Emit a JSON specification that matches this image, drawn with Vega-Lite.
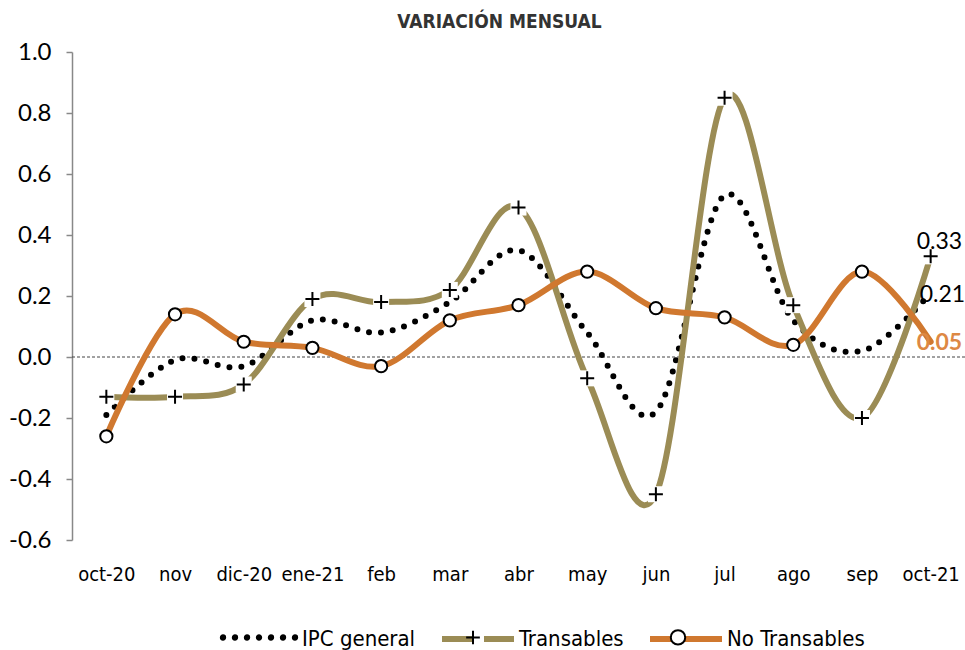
{
  "$schema": "https://vega.github.io/schema/vega-lite/v6.json",
  "width": 893,
  "height": 488,
  "autosize": {"type": "none"},
  "padding": {"left": 72, "top": 52, "right": 0, "bottom": 110},
  "background": "white",
  "title": {
    "text": "VARIACIÓN MENSUAL",
    "font": "DejaVu Sans Condensed",
    "fontSize": 19,
    "fontWeight": "bold",
    "color": "#333333",
    "anchor": "middle",
    "dx": -19,
    "offset": 8
  },
  "data": {
    "values": [
      {"month": "oct-20", "IPC general": -0.19, "Transables": -0.13, "No Transables": -0.26},
      {"month": "nov", "IPC general": -0.01, "Transables": -0.13, "No Transables": 0.14},
      {"month": "dic-20", "IPC general": -0.03, "Transables": -0.09, "No Transables": 0.05},
      {"month": "ene-21", "IPC general": 0.12, "Transables": 0.19, "No Transables": 0.03},
      {"month": "feb", "IPC general": 0.08, "Transables": 0.18, "No Transables": -0.03},
      {"month": "mar", "IPC general": 0.18, "Transables": 0.22, "No Transables": 0.12},
      {"month": "abr", "IPC general": 0.35, "Transables": 0.49, "No Transables": 0.17},
      {"month": "may", "IPC general": 0.08, "Transables": -0.07, "No Transables": 0.28},
      {"month": "jun", "IPC general": -0.18, "Transables": -0.45, "No Transables": 0.16},
      {"month": "jul", "IPC general": 0.53, "Transables": 0.85, "No Transables": 0.13},
      {"month": "ago", "IPC general": 0.12, "Transables": 0.17, "No Transables": 0.04},
      {"month": "sep", "IPC general": 0.02, "Transables": -0.2, "No Transables": 0.28},
      {"month": "oct-21", "IPC general": 0.21, "Transables": 0.33, "No Transables": 0.05}
    ]
  },
  "transform": [
    {"fold": ["IPC general", "Transables", "No Transables"], "as": ["series", "value"]}
  ],
  "config": {
    "view": {"stroke": null},
    "font": "Lato"
  },
  "encoding": {
    "x": {
      "field": "month", "type": "ordinal",
      "scale": {"type": "point", "padding": 0.5, "domain": ["oct-20", "nov", "dic-20", "ene-21", "feb", "mar", "abr", "may", "jun", "jul", "ago", "sep", "oct-21"]},
      "axis": {"title": null, "domain": false, "ticks": false, "labelPadding": 24, "labelFont": "DejaVu Sans Condensed", "labelFontSize": 20, "labelColor": "black", "labelAngle": 0}
    },
    "y": {
      "field": "value", "type": "quantitative",
      "scale": {"domain": [-0.6, 1.0], "nice": false, "zero": false},
      "axis": {
        "title": null, "grid": false, "values": [-0.6, -0.4, -0.2, 0, 0.2, 0.4, 0.6, 0.8, 1.0],
        "labelExpr": "replace(format(datum.value, '.1f'), '\u2212', '-')",
        "domainColor": "#888888", "domainWidth": 1.5, "tickColor": "#888888", "tickWidth": 1.5, "tickSize": 6,
        "labelPadding": 15, "labelFont": "Lato", "labelFontSize": 24, "labelColor": "black"
      }
    }
  },
  "layer": [
    {
      "transform": [{"filter": "datum.month == 'oct-20' && datum.series == 'IPC general'"}],
      "mark": {"type": "rule", "color": "#444444", "strokeDash": [3, 2], "strokeWidth": 1},
      "encoding": {"x": null, "y": {"datum": 0, "type": "quantitative"}}
    },
    {
      "mark": {"type": "line", "opacity": 0, "strokeWidth": 6},
      "encoding": {
        "color": {
          "field": "series", "type": "nominal",
          "scale": {"domain": ["IPC general", "Transables", "No Transables"], "range": ["#000000", "#9B8C55", "#D0782F"]},
          "legend": {
            "orient": "none", "legendX": 150, "legendY": 548, "direction": "horizontal", "columns": 3,
            "title": null, "padding": 0, "symbolType": "stroke", "symbolSize": 5184, "symbolStrokeWidth": 6, "symbolOpacity": 1,
            "labelFont": "DejaVu Sans Condensed", "labelFontSize": 22, "labelColor": "black", "labelOffset": 2, "columnPadding": 14
          }
        },
        "strokeDash": {
          "field": "series", "type": "nominal",
          "scale": {"domain": ["IPC general", "Transables", "No Transables"], "range": [[0, 100], [30, 12, 30], [1, 0]]},
          "legend": {
            "orient": "none", "legendX": 150, "legendY": 548, "direction": "horizontal", "columns": 3,
            "title": null, "padding": 0, "symbolType": "stroke", "symbolSize": 5184, "symbolStrokeWidth": 6, "symbolOpacity": 1,
            "labelFont": "DejaVu Sans Condensed", "labelFontSize": 22, "labelColor": "black", "labelOffset": 2, "columnPadding": 14
          }
        }
      }
    },
    {
      "transform": [{"filter": "datum.series == 'IPC general'"}],
      "mark": {"type": "line", "interpolate": "cardinal", "strokeWidth": 6, "strokeCap": "round", "strokeDash": [0, 12], "color": "#000000"}
    },
    {
      "transform": [{"filter": "datum.series == 'Transables'"}],
      "mark": {"type": "line", "interpolate": "cardinal", "strokeWidth": 6, "strokeCap": "round", "color": "#9B8C55"}
    },
    {
      "transform": [{"filter": "datum.series == 'No Transables'"}],
      "mark": {"type": "line", "interpolate": "cardinal", "strokeWidth": 6, "strokeCap": "round", "color": "#D0782F"}
    },
    {
      "transform": [{"filter": "datum.series == 'Transables'"}],
      "mark": {"type": "point", "filled": true, "shape": "square", "size": 256, "opacity": 1, "strokeWidth": 0, "fill": "white"}
    },
    {
      "transform": [{"filter": "datum.series == 'Transables'"}],
      "mark": {"type": "point", "filled": false, "shape": "M-1,0H1M0,-1V1", "size": 196, "opacity": 1, "strokeWidth": 2, "stroke": "black"}
    },
    {
      "transform": [{"filter": "datum.series == 'No Transables' && datum.month != 'oct-21'"}],
      "mark": {"type": "point", "filled": true, "shape": "circle", "size": 150, "opacity": 1, "strokeWidth": 2, "stroke": "black", "fill": "white"}
    },
    {
      "mark": {
        "type": "point", "filled": true, "opacity": 0, "stroke": "black", "strokeWidth": 2,
        "fill": {"expr": "datum.value === 'IPC general' ? 'black' : 'white'"},
        "shape": {"expr": "datum.value === 'IPC general' ? 'M-0.94,0A0.06,0.06,0,1,1,-1.06,0A0.06,0.06,0,1,1,-0.94,0ZM-0.607,0A0.06,0.06,0,1,1,-0.727,0A0.06,0.06,0,1,1,-0.607,0ZM-0.273,0A0.06,0.06,0,1,1,-0.393,0A0.06,0.06,0,1,1,-0.273,0ZM0.06,0A0.06,0.06,0,1,1,-0.06,0A0.06,0.06,0,1,1,0.06,0ZM0.393,0A0.06,0.06,0,1,1,0.273,0A0.06,0.06,0,1,1,0.393,0ZM0.727,0A0.06,0.06,0,1,1,0.607,0A0.06,0.06,0,1,1,0.727,0ZM1.06,0A0.06,0.06,0,1,1,0.94,0A0.06,0.06,0,1,1,1.06,0Z' : datum.value === 'Transables' ? 'M-1.06,0L-1.06,0M1.06,0L1.06,0M-0.19,0H0.19M0,-0.19V0.19' : 'M-1.06,0L-1.06,0M1.06,0L1.06,0M0.2,0A0.2,0.2,0,1,1,-0.2,0A0.2,0.2,0,1,1,0.2,0Z'"}
      },
      "encoding": {
        "size": {
          "field": "series", "type": "nominal", "sort": ["IPC general", "Transables", "No Transables"],
          "scale": {"range": [5184, 5184]},
          "legend": {
            "orient": "none", "legendX": 150, "legendY": 548, "direction": "horizontal", "columns": 3,
            "title": null, "padding": 0, "symbolOpacity": 1, "symbolStrokeWidth": 2,
            "labelFont": "DejaVu Sans Condensed", "labelFontSize": 22, "labelColor": "black", "labelOpacity": 0, "labelOffset": 6, "columnPadding": 14
          }
        }
      }
    },
    {
      "transform": [{"filter": "datum.month == 'oct-21' && datum.series == 'Transables'"}],
      "mark": {"type": "text", "align": "left", "baseline": "middle", "dx": -14, "dy": -14, "font": "Lato", "fontSize": 23, "color": "black"},
      "encoding": {"text": {"field": "value", "type": "quantitative", "format": ".2f"}}
    },
    {
      "transform": [{"filter": "datum.month == 'oct-21' && datum.series == 'IPC general'"}],
      "mark": {"type": "text", "align": "left", "baseline": "middle", "dx": -11, "dy": 2, "font": "Lato", "fontSize": 23, "color": "black"},
      "encoding": {"text": {"field": "value", "type": "quantitative", "format": ".2f"}}
    },
    {
      "transform": [{"filter": "datum.month == 'oct-21' && datum.series == 'No Transables'"}],
      "mark": {"type": "text", "align": "left", "baseline": "middle", "dx": -14, "dy": 1, "font": "Lato", "fontSize": 23, "fontWeight": "bold", "color": "#DD8844"},
      "encoding": {"text": {"field": "value", "type": "quantitative", "format": ".2f"}}
    }
  ]
}
